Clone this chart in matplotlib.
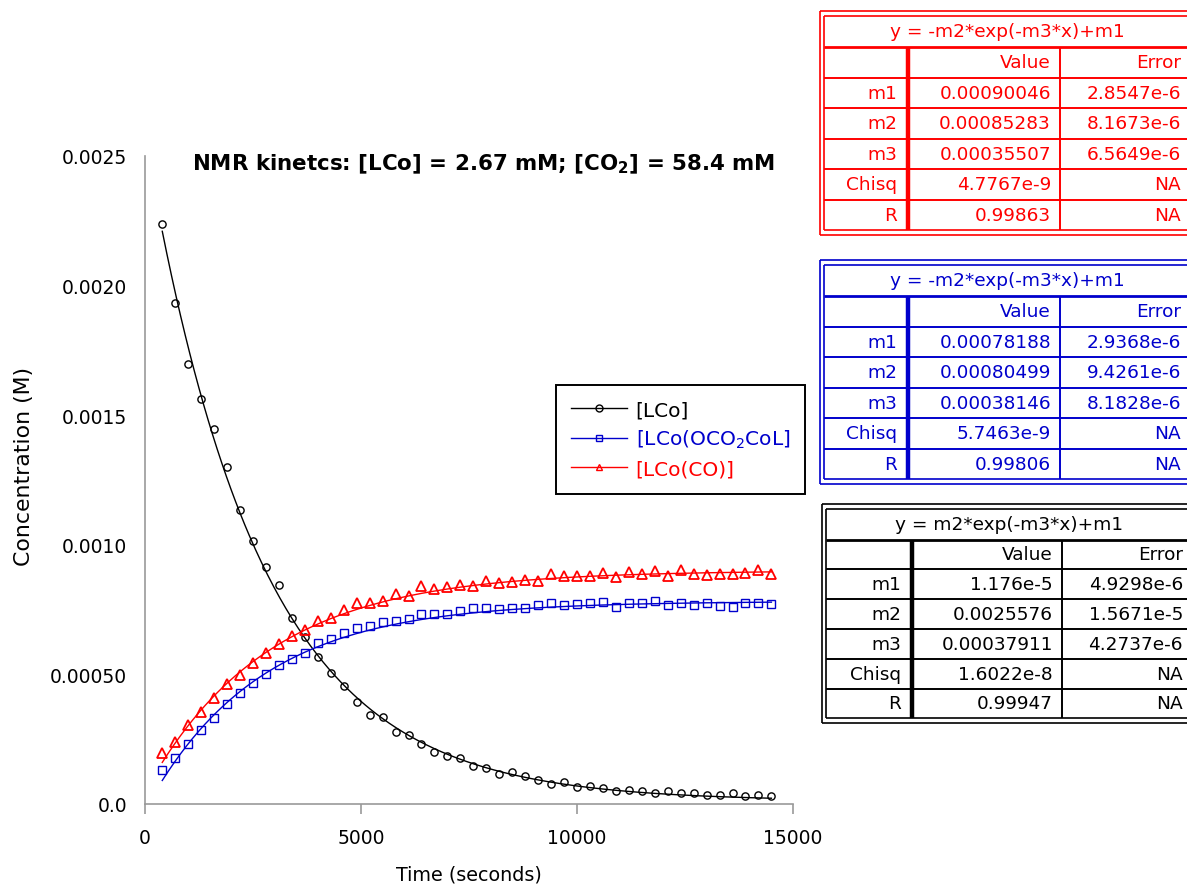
import numpy as np
import matplotlib
matplotlib.use("Agg")
import matplotlib.pyplot as plt
from matplotlib.lines import Line2D

plt.rcParams['font.family'] = ['DejaVu Sans']

# sampling times (s), one spectrum every 300 s
time_s = [400, 700, 1000, 1300, 1600, 1900, 2200, 2500, 2800, 3100, 3400, 3700,
          4000, 4300, 4600, 4900, 5200, 5500, 5800, 6100, 6400, 6700, 7000, 7300,
          7600, 7900, 8200, 8500, 8800, 9100, 9400, 9700, 10000, 10300, 10600, 10900,
          11200, 11500, 11800, 12100, 12400, 12700, 13000, 13300, 13600, 13900, 14200, 14500]

# concentrations (M)
conc_lco = [0.002237, 0.001932, 0.001698, 0.001564, 0.001445, 0.001300, 0.001134, 0.001013,
            0.000913, 0.000845, 0.000716, 0.000645, 0.000567, 0.000505, 0.000454, 0.000392,
            0.000343, 0.000336, 0.000279, 0.000266, 0.000230, 0.000202, 0.000186, 0.000178,
            0.000148, 0.000138, 0.000116, 0.000122, 0.000108, 0.000091, 0.000076, 0.000084,
            0.000067, 0.000069, 0.000061, 0.000049, 0.000055, 0.000050, 0.000044, 0.000049,
            0.000044, 0.000042, 0.000036, 0.000036, 0.000044, 0.000031, 0.000036, 0.000032]
conc_dimer = [0.000132, 0.000179, 0.000231, 0.000285, 0.000333, 0.000387, 0.000427, 0.000466,
              0.000503, 0.000535, 0.000558, 0.000584, 0.000620, 0.000637, 0.000661, 0.000679,
              0.000686, 0.000703, 0.000707, 0.000713, 0.000732, 0.000734, 0.000734, 0.000745,
              0.000755, 0.000757, 0.000751, 0.000756, 0.000757, 0.000768, 0.000777, 0.000769,
              0.000770, 0.000774, 0.000780, 0.000761, 0.000777, 0.000774, 0.000782, 0.000768,
              0.000777, 0.000766, 0.000777, 0.000765, 0.000761, 0.000777, 0.000777, 0.000770]
conc_co = [0.000197, 0.000240, 0.000304, 0.000354, 0.000410, 0.000463, 0.000497, 0.000545,
           0.000583, 0.000616, 0.000647, 0.000671, 0.000707, 0.000719, 0.000747, 0.000775,
           0.000776, 0.000784, 0.000810, 0.000801, 0.000841, 0.000831, 0.000836, 0.000845,
           0.000842, 0.000859, 0.000853, 0.000858, 0.000863, 0.000862, 0.000889, 0.000878,
           0.000878, 0.000880, 0.000891, 0.000876, 0.000894, 0.000887, 0.000900, 0.000878,
           0.000903, 0.000886, 0.000884, 0.000889, 0.000886, 0.000892, 0.000904, 0.000886]

# fit results
param_names = ['m1', 'm2', 'm3', 'Chisq', 'R']
co_values = ['0.00090046', '0.00085283', '0.00035507', '4.7767e-9', '0.99863']
co_errors = ['2.8547e-6', '8.1673e-6', '6.5649e-6', 'NA', 'NA']
dimer_values = ['0.00078188', '0.00080499', '0.00038146', '5.7463e-9', '0.99806']
dimer_errors = ['2.9368e-6', '9.4261e-6', '8.1828e-6', 'NA', 'NA']
lco_values = ['1.176e-5', '0.0025576', '0.00037911', '1.6022e-8', '0.99947']
lco_errors = ['4.9298e-6', '1.5671e-5', '4.2737e-6', 'NA', 'NA']

y_ticks = [0.0, 0.0005, 0.0010, 0.0015, 0.0020, 0.0025]
y_ticklabels = ['0.0', '0.00050', '0.0010', '0.0015', '0.0020', '0.0025']
x_ticks = [0, 5000, 10000, 15000]

BLUE = '#0000CC'
RED = '#FF0000'
W, H = 1187, 887

fig = plt.figure(figsize=(W / 100, H / 100), dpi=100)
ax = fig.add_axes([145 / W, 82 / H, 648 / W, 648 / H])

t_fit = np.linspace(time_s[0], time_s[-1], 400)


def decay(p):
    m1, m2, m3 = (float(v) for v in p[:3])
    return m2 * np.exp(-m3 * t_fit) + m1


def growth(p):
    m1, m2, m3 = (float(v) for v in p[:3])
    return -m2 * np.exp(-m3 * t_fit) + m1


ax.plot(t_fit, decay(lco_values), color='black', lw=1.0)
ax.plot(t_fit, growth(dimer_values), color=BLUE, lw=1.0)
ax.plot(t_fit, growth(co_values), color=RED, lw=1.0)
ax.plot(time_s, conc_lco, 'o', ms=5.2, mfc='none', mec='black', mew=1.0)
ax.plot(time_s, conc_dimer, 's', ms=5.8, mfc='none', mec=BLUE, mew=1.0)
ax.plot(time_s, conc_co, '^', ms=6.5, mfc='none', mec=RED, mew=1.3)

ax.set_xlim(0, 15000)
ax.set_ylim(0, 0.0025)
ax.set_xticks(x_ticks)
ax.set_xticklabels([str(x) for x in x_ticks])
ax.set_yticks(y_ticks)
ax.set_yticklabels(y_ticklabels)
for s in ['top', 'right']:
    ax.spines[s].set_visible(False)
for s in ['left', 'bottom']:
    ax.spines[s].set_color('#999999')
    ax.spines[s].set_linewidth(1.2)
ax.tick_params(axis='x', length=7, color='#999999', width=1.2, pad=10, labelsize=13.5)
ax.tick_params(axis='y', length=0, pad=13, labelsize=13.5)
ax.set_xlabel('Time (seconds)', fontsize=13.8, labelpad=13)
ax.set_ylabel('Concentration (M)', fontsize=15.8)
ax.yaxis.set_label_coords(-0.172, 0.523)
ax.text(0.523, 0.988, r'NMR kinetcs: [LCo] = 2.67 mM; [CO$_\mathbf{2}$] = 58.4 mM',
        transform=ax.transAxes, fontsize=15.4, fontweight='bold', ha='center', va='center')

handles = [
    Line2D([], [], color='black', lw=1.0, marker='o', ms=5, mfc='none', mec='black'),
    Line2D([], [], color=BLUE, lw=1.0, marker='s', ms=5, mfc='none', mec=BLUE),
    Line2D([], [], color=RED, lw=1.0, marker='^', ms=5, mfc='none', mec=RED),
]
leg = fig.legend(handles, ['[LCo]', '[LCo(OCO$_2$CoL]', '[LCo(CO)]'],
                 loc='upper left', bbox_to_anchor=(556 / W, 1 - 386 / H), borderaxespad=0,
                 fontsize=14.5, handlelength=2.8, handletextpad=0.4, borderpad=0.75,
                 labelspacing=0.45, fancybox=False, framealpha=1, edgecolor='black')
leg.get_frame().set_linewidth(1.4)
for txt, c in zip(leg.get_texts(), ['black', BLUE, RED]):
    txt.set_color(c)


def hline(x0, x1, y, color, lw):
    fig.add_artist(Line2D([x0 / W, x1 / W], [1 - y / H, 1 - y / H],
                          transform=fig.transFigure, color=color, lw=lw,
                          solid_capstyle='butt', clip_on=False))


def vline(x, y0, y1, color, lw):
    fig.add_artist(Line2D([x / W, x / W], [1 - y0 / H, 1 - y1 / H],
                          transform=fig.transFigure, color=color, lw=lw,
                          solid_capstyle='butt', clip_on=False))


def fit_table(left, top, color, equation, values, errors, head_h=31.5, row_h=30.5,
              div1=88, div2=240):
    right = left + 380
    outer_top, outer_bot = top, top + 4.5 + head_h + 6 * row_h + 4.5
    # double frame
    hline(left, right, outer_top, color, 1.2)
    hline(left, right, outer_bot, color, 1.2)
    vline(left, outer_top, outer_bot, color, 1.2)
    il, it, ib = left + 3.8, outer_top + 4.5, outer_bot - 4.5
    hline(il, right, it, color, 1.2)
    hline(il, right, ib, color, 1.2)
    vline(il, it, ib, color, 1.2)
    hb = it + head_h
    hline(il, right, hb, color, 2.0)
    for i in range(1, 6):
        hline(il, right, hb + i * row_h, color, 1.4)
    x1, x2 = left + div1, left + div2
    vline(x1, hb, ib, color, 3.2)
    vline(x2, hb, ib, color, 1.4)
    fs = 13.3
    fig.text((left + 187) / W, 1 - (it + head_h / 2) / H, equation, color=color,
             fontsize=fs, ha='center', va='center')
    yc = hb + row_h / 2
    fig.text((x2 - 9) / W, 1 - yc / H, 'Value', color=color, fontsize=fs, ha='right', va='center')
    fig.text((x2 + 121) / W, 1 - yc / H, 'Error', color=color, fontsize=fs, ha='right', va='center')
    for i, (name, v, e) in enumerate(zip(param_names, values, errors)):
        yc = hb + (i + 1.5) * row_h
        fig.text((x1 - 11) / W, 1 - yc / H, name, color=color, fontsize=fs, ha='right', va='center')
        fig.text((x2 - 9) / W, 1 - yc / H, v, color=color, fontsize=fs, ha='right', va='center')
        fig.text((x2 + 121) / W, 1 - yc / H, e, color=color, fontsize=fs, ha='right', va='center')


fit_table(820, 12, RED, 'y = -m2*exp(-m3*x)+m1', co_values, co_errors)
fit_table(820, 261, BLUE, 'y = -m2*exp(-m3*x)+m1', dimer_values, dimer_errors)
fit_table(822, 505, 'black', 'y = m2*exp(-m3*x)+m1', lco_values, lco_errors,
          head_h=31, row_h=29.8, div1=90, div2=240)

fig.savefig('out.png', dpi=100)
